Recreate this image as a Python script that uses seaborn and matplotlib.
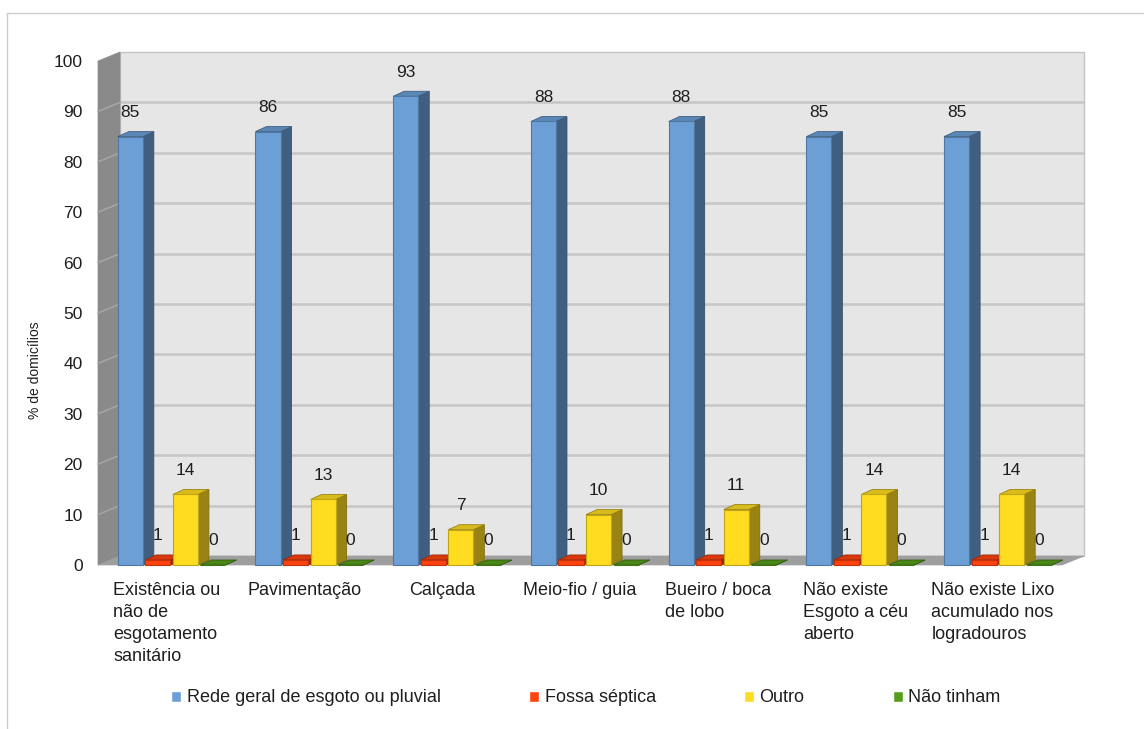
import matplotlib
matplotlib.use("Agg")
import matplotlib.pyplot as plt
import matplotlib.colors as mcolors
from matplotlib.patches import Polygon, Rectangle
from matplotlib.lines import Line2D
import pandas as pd
import seaborn as sns

# ---- data -------------------------------------------------------------
categories = [
    "Existência ou\nnão de\nesgotamento\nsanitário",
    "Pavimentação",
    "Calçada",
    "Meio-fio / guia",
    "Bueiro / boca\nde lobo",
    "Não existe\nEsgoto a céu\naberto",
    "Não existe Lixo\nacumulado nos\nlogradouros",
]
series = ["Rede geral de esgoto ou pluvial", "Fossa séptica", "Outro", "Não tinham"]
rede_geral = [85, 86, 93, 88, 88, 85, 85]
fossa_septica = [1, 1, 1, 1, 1, 1, 1]
outro = [14, 13, 7, 10, 11, 14, 14]
nao_tinham = [0, 0, 0, 0, 0, 0, 0]
y_ticks = [0, 10, 20, 30, 40, 50, 60, 70, 80, 90, 100]
y_title = "% de domicílios"

front_colors = ["#6b9fd6", "#ff420e", "#ffdc20", "#579d1c"]

df = pd.DataFrame({
    "categoria": categories * 4,
    "serie": [s for s in series for _ in categories],
    "valor": rede_geral + fossa_septica + outro + nao_tinham,
})

# ---- figure -----------------------------------------------------------
sns.set_theme(style="white")
plt.rcParams["font.family"] = ["Liberation Sans", "DejaVu Sans"]
text_color = "#1e1e1e"

W, H = 1144, 729
fig = plt.figure(figsize=(W / 100, H / 100), dpi=100)
fig.patch.set_facecolor("white")
ax = fig.add_axes([98 / W, (H - 565) / H, 964 / W, 504 / H])

sns.barplot(data=df, x="categoria", y="valor", hue="serie",
            order=categories, hue_order=series, palette=front_colors,
            saturation=1, width=0.8, errorbar=None, ax=ax)

ax.set_xlim(-0.5, len(categories) - 0.5)
ax.set_ylim(0, 100)
ax.patch.set_visible(False)
for s in ax.spines.values():
    s.set_visible(False)


def px(dxp, dyp):
    """Convert a pixel offset into data units."""
    x0, y0 = ax.transData.transform((0, 0))
    return tuple(ax.transData.inverted().transform((x0 + dxp, y0 + dyp)))


def shade(c, f):
    r, g, b = mcolors.to_rgb(c)
    return (r * f, g * f, b * f)


# ---- box walls (back wall, side wall, floor) --------------------------
xmin, xmax = ax.get_xlim()
wdx, wdy = px(22, 9)
ax.add_patch(Rectangle((xmin + wdx, wdy), xmax - xmin, 100,
                       fc="#e6e6e6", ec="#c4c4c4", lw=1.0,
                       zorder=0.1, clip_on=False))
ax.add_patch(Polygon([(xmin, 0), (xmin + wdx, wdy), (xmin + wdx, 100 + wdy), (xmin, 100)],
                     closed=True, fc="#8a8a8a", ec="#8a8a8a", lw=0.5,
                     zorder=0.2, clip_on=False))
ax.add_patch(Polygon([(xmin, 0), (xmax, 0), (xmax + wdx, wdy), (xmin + wdx, wdy)],
                     closed=True, fc="#9e9e9e", ec="#9e9e9e", lw=0.5,
                     zorder=0.2, clip_on=False))
for v in y_ticks[1:-1]:
    ax.plot([xmin + wdx, xmax + wdx], [v + wdy, v + wdy], color="#c6c6c6",
            lw=1.8, zorder=0.3, clip_on=False, solid_capstyle="butt")
    ax.plot([xmin, xmin + wdx], [v, v + wdy], color="#a4a4a4",
            lw=1.2, zorder=0.3, clip_on=False)

# ---- 3D faces of every bar -------------------------------------------
bdx, bdy = px(11, 5)
shift, _ = px(6, 0)      # bars sit slightly right of the category centre
gap, _ = px(2.5, 0)      # small gap between neighbouring bars
bars = sorted([p for c in ax.containers for p in c], key=lambda p: p.get_x())
for i, p in enumerate(bars):
    p.set_x(p.get_x() + shift)
    p.set_width(p.get_width() - gap)
    x, w, h = p.get_x(), p.get_width(), p.get_height()
    fc = p.get_facecolor()
    base = 2 + i * 0.01
    side = Polygon([(x + w, 0), (x + w, h), (x + w + bdx, h + bdy), (x + w + bdx, bdy)],
                   closed=True, fc=shade(fc, 0.6), ec=shade(fc, 0.5), lw=0.6,
                   zorder=base, clip_on=False)
    top = Polygon([(x, h), (x + w, h), (x + w + bdx, h + bdy), (x + bdx, h + bdy)],
                  closed=True, fc=shade(fc, 0.85), ec=shade(fc, 0.6), lw=0.6,
                  zorder=base, clip_on=False)
    ax.add_patch(side)
    ax.add_patch(top)
    p.set_edgecolor(shade(fc, 0.75))
    p.set_linewidth(0.8)
    p.set_zorder(base + 0.005)
    p.set_clip_on(False)

for c in ax.containers:
    ax.bar_label(c, fmt="%g", padding=12, fontsize=12.5, color=text_color, zorder=10)

# ---- axes text --------------------------------------------------------
ax.set_xlabel("")
ax.set_ylabel("")
ax.set_yticks(y_ticks)
ax.tick_params(axis="y", length=0, pad=11, labelsize=12.5, labelcolor=text_color)
ax.tick_params(axis="x", length=0, pad=12, labelsize=13, labelcolor=text_color)
for t in ax.get_xticklabels():
    t.set_multialignment("left")
    t.set_linespacing(1.4)
    t.set_verticalalignment("top")

fig.text(35 / W, 1 - 370 / H, y_title, rotation=90, ha="center", va="center",
         fontsize=10, color=text_color)

# ---- legend -----------------------------------------------------------
handles, labels = ax.get_legend_handles_labels()
if ax.get_legend() is not None:
    ax.get_legend().remove()
fig.legend(handles, labels, loc="center", bbox_to_anchor=(586 / W, 1 - 698 / H),
           ncol=4, frameon=False, handlelength=0.55, handleheight=0.55,
           handletextpad=0.3, columnspacing=4.9, fontsize=13,
           labelcolor=text_color)

# ---- outer frame ------------------------------------------------------
fig.add_artist(Line2D([7 / W, 1], [1 - 13 / H, 1 - 13 / H], transform=fig.transFigure,
                      color="#cccccc", lw=1))
fig.add_artist(Line2D([7 / W, 7 / W], [0, 1 - 13 / H], transform=fig.transFigure,
                      color="#cccccc", lw=1))

fig.savefig("out.png", dpi=100)
